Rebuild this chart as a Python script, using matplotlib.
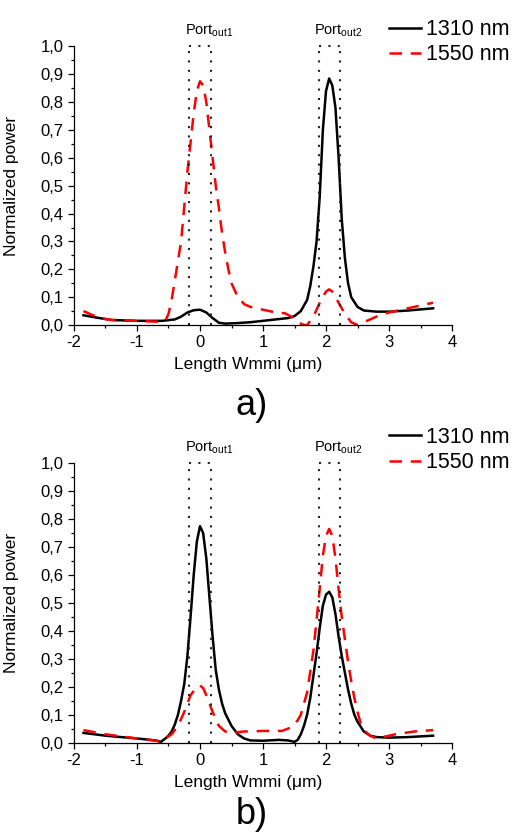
from matplotlib import pyplot as plt
from matplotlib.ticker import MultipleLocator, FuncFormatter
from matplotlib.lines import Line2D

plt.rcParams['font.family'] = ['Liberation Sans', 'DejaVu Sans']
plt.rcParams['mathtext.fontset'] = 'custom'
plt.rcParams['mathtext.rm'] = 'Liberation Sans'

# panel a) 1310 nm
a_x_1310 = [-1.85, -1.6, -1.4, -1.0, -0.6, -0.4, -0.3, -0.2, -0.1, 0.0, 0.1, 0.2, 0.3,
            0.4, 0.6, 0.8, 1.0, 1.2, 1.4, 1.5, 1.6, 1.7, 1.75, 1.8, 1.85, 1.9, 1.95,
            2.0, 2.05, 2.1, 2.15, 2.2, 2.25, 2.3, 2.35, 2.4, 2.5, 2.6, 2.8, 3.0, 3.3, 3.7]
a_y_1310 = [0.035, 0.025, 0.018, 0.015, 0.015, 0.02, 0.03, 0.045, 0.053, 0.055, 0.045,
            0.025, 0.008, 0.005, 0.007, 0.01, 0.015, 0.02, 0.025, 0.032, 0.05, 0.09,
            0.14, 0.21, 0.30, 0.46, 0.70, 0.84, 0.885, 0.86, 0.78, 0.60, 0.38, 0.24,
            0.15, 0.10, 0.065, 0.052, 0.048, 0.048, 0.052, 0.06]

# panel a) 1550 nm
a_x_1550 = [-1.85, -1.6, -1.4, -1.0, -0.7, -0.6, -0.55, -0.5, -0.45, -0.4, -0.3, -0.2,
            -0.1, -0.05, 0.0, 0.05, 0.1, 0.15, 0.2, 0.25, 0.3, 0.35, 0.4, 0.45, 0.5,
            0.6, 0.7, 0.8, 1.0, 1.2, 1.35, 1.45, 1.55, 1.65, 1.7, 1.8, 1.9, 2.0, 2.05,
            2.1, 2.2, 2.3, 2.4, 2.5, 2.6, 2.8, 3.0, 3.3, 3.7]
a_y_1550 = [0.05, 0.025, 0.018, 0.015, 0.012, 0.012, 0.015, 0.04, 0.09, 0.16, 0.30,
            0.55, 0.76, 0.84, 0.875, 0.86, 0.80, 0.70, 0.60, 0.50, 0.42, 0.33, 0.26,
            0.20, 0.15, 0.10, 0.075, 0.065, 0.055, 0.045, 0.042, 0.03, 0.01, 0.0, 0.0,
            0.03, 0.08, 0.12, 0.128, 0.12, 0.08, 0.04, 0.01, 0.0, 0.01, 0.03, 0.045,
            0.06, 0.08]

# panel b) 1310 nm
b_x_1310 = [-1.85, -1.5, -1.0, -0.7, -0.62, -0.55, -0.5, -0.45, -0.4, -0.35, -0.3, -0.25,
            -0.2, -0.15, -0.1, -0.05, 0.0, 0.05, 0.1, 0.15, 0.2, 0.25, 0.3, 0.35, 0.4,
            0.5, 0.6, 0.7, 0.8, 1.0, 1.25, 1.4, 1.5, 1.55, 1.6, 1.65, 1.7, 1.75, 1.8,
            1.85, 1.9, 1.95, 2.0, 2.05, 2.1, 2.15, 2.2, 2.25, 2.3, 2.35, 2.4, 2.45, 2.5,
            2.6, 2.7, 2.8, 3.0, 3.3, 3.7]
b_y_1310 = [0.035, 0.025, 0.015, 0.008, 0.003, 0.015, 0.025, 0.04, 0.065, 0.10, 0.15,
            0.21, 0.31, 0.45, 0.60, 0.72, 0.775, 0.75, 0.66, 0.52, 0.38, 0.26, 0.19,
            0.14, 0.105, 0.06, 0.03, 0.015, 0.008, 0.007, 0.01, 0.008, 0.003, 0.01,
            0.03, 0.06, 0.10, 0.16, 0.24, 0.32, 0.41, 0.49, 0.53, 0.54, 0.52, 0.46,
            0.38, 0.31, 0.25, 0.19, 0.14, 0.10, 0.075, 0.04, 0.025, 0.02, 0.018, 0.02,
            0.025]

# panel b) 1550 nm
b_x_1550 = [-1.85, -1.5, -1.0, -0.8, -0.65, -0.55, -0.45, -0.35, -0.25, -0.15, -0.05,
            0.0, 0.05, 0.1, 0.2, 0.3, 0.4, 0.5, 0.7, 1.0, 1.3, 1.45, 1.55, 1.6, 1.7,
            1.8, 1.85, 1.9, 1.95, 2.0, 2.05, 2.1, 2.15, 2.2, 2.25, 2.3, 2.35, 2.4, 2.45,
            2.5, 2.55, 2.6, 2.7, 2.8, 2.9, 3.1, 3.4, 3.7]
b_y_1550 = [0.045, 0.03, 0.015, 0.01, 0.005, 0.015, 0.03, 0.06, 0.11, 0.17, 0.20,
            0.205, 0.195, 0.17, 0.11, 0.06, 0.04, 0.035, 0.04, 0.042, 0.042, 0.055,
            0.08, 0.10, 0.18, 0.33, 0.44, 0.55, 0.67, 0.74, 0.765, 0.74, 0.66, 0.55,
            0.45, 0.37, 0.29, 0.22, 0.16, 0.11, 0.07, 0.045, 0.025, 0.015, 0.02, 0.03,
            0.04, 0.045]

port_edges = [(-0.17, 0.18), (1.886, 2.23)]
port_names = [r'Port$_{\mathrm{out1}}$', r'Port$_{\mathrm{out2}}$']
port_label_x = [0.14, 2.19]

panels = [
    ('a)', a_x_1310, a_y_1310, a_x_1550, a_y_1550),
    ('b)', b_x_1310, b_y_1310, b_x_1550, b_y_1550),
]

fig = plt.figure(figsize=(5.16, 8.34), dpi=100)
axes_rects = [[0.1434, 0.6103, 0.7326, 0.334], [0.1434, 0.1095, 0.7326, 0.335]]
panel_label_y = [0.514, 0.023]
legend_top = [0.990, 0.501]
dash = (0, (5, 3.5))

for rect, (tag, x1, y1, x2, y2), ly, lt in zip(axes_rects, panels, panel_label_y, legend_top):
    ax = fig.add_axes(rect)
    ax.plot(x1, y1, color='black', lw=1.8, label='1310 nm')
    ax.plot(x2, y2, color='red', lw=1.8, linestyle=dash, label='1550 nm')
    for (l, r), name, px in zip(port_edges, port_names, port_label_x):
        ax.plot([l, l], [0, 1.0], color='#222222', lw=1.5, linestyle=(0, (1, 3.5)))
        ax.plot([r, r], [0, 1.0], color='#222222', lw=1.5, linestyle=(0, (1, 3.5)))
        ax.plot([l, r], [1.0, 1.0], color='#222222', lw=1.5, linestyle=(0, (1, 3.5)),
                clip_on=False)
        ax.text(px, 1.025, name, ha='center', va='bottom', fontsize=10.5, clip_on=False)
    ax.set_xlim(-2, 4)
    ax.set_ylim(0, 1.0)
    ax.spines['top'].set_visible(False)
    ax.spines['right'].set_visible(False)
    for s in ('left', 'bottom'):
        ax.spines[s].set_linewidth(0.9)
    ax.xaxis.set_major_locator(MultipleLocator(1))
    ax.xaxis.set_minor_locator(MultipleLocator(0.5))
    ax.yaxis.set_major_locator(MultipleLocator(0.1))
    ax.yaxis.set_minor_locator(MultipleLocator(0.05))
    ax.yaxis.set_major_formatter(FuncFormatter(lambda v, p: ('%.1f' % v).replace('.', ',')))
    ax.xaxis.set_major_formatter(FuncFormatter(lambda v, p: '%d' % round(v)))
    ax.tick_params(which='major', direction='out', length=4, width=0.9, labelsize=12)
    ax.tick_params(which='minor', direction='out', length=2.5, width=0.9)
    ax.set_ylabel('Normalized power', fontsize=12.5)
    ax.set_xlabel('Length Wmmi (\u03bcm)', fontsize=12.5)
    ax.xaxis.set_label_coords(0.46, -0.115)
    ax.yaxis.set_label_coords(-0.145, 0.5)
    handles = [Line2D([], [], color='black', lw=1.8),
               Line2D([], [], color='red', lw=1.8, linestyle=dash)]
    fig.legend(handles, ['1310 nm', '1550 nm'], loc='upper left',
               bbox_to_anchor=(0.733, lt), frameon=False, fontsize=15.5,
               handlelength=1.5, handletextpad=0.2, labelspacing=0.2, borderpad=0)
    fig.text(0.488, ly, tag, ha='center', va='center', fontsize=26)

fig.savefig('out.png', dpi=100)
